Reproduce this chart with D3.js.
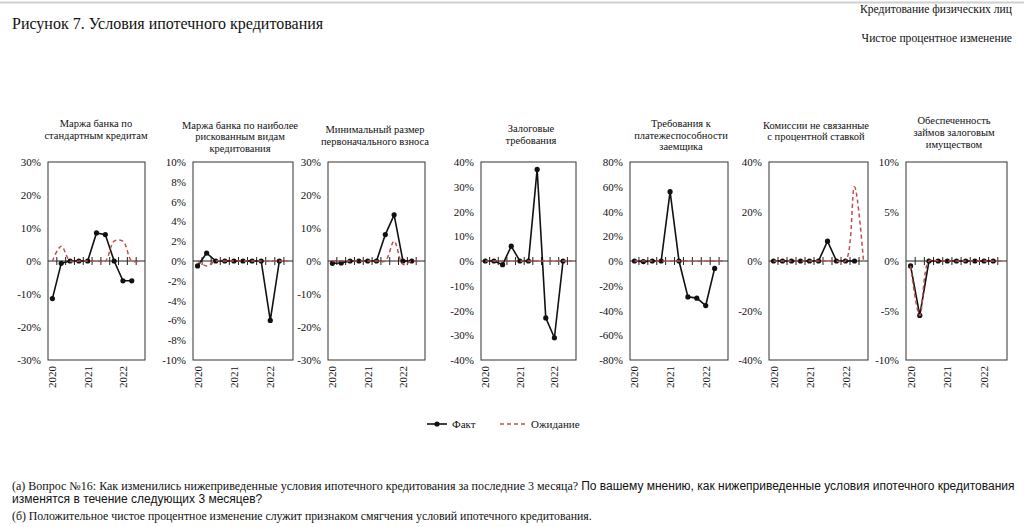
<!DOCTYPE html>
<html><head><meta charset="utf-8">
<script src="https://cdn.jsdelivr.net/npm/d3@7"></script>
<style>
html,body{margin:0;padding:0;background:#fff;}
svg{display:block;}
text{font-family:"Liberation Serif","Times New Roman",serif;fill:#111;}
.sans{font-family:"Liberation Sans",Arial,sans-serif;}
</style></head>
<body>
<svg id="chart" width="1024" height="527"></svg>
<script>
// ---- data ----
const categories = ["2020Q1","2020Q2","2020Q3","2020Q4","2021Q1","2021Q2","2021Q3","2021Q4","2022Q1","2022Q2","2022Q3"];
const yearCats = ["2020Q1","2021Q1","2022Q1"];
const yearLabels = ["2020","2021","2022"];
const titles = [
  ["Маржа банка по","стандартным кредитам"],
  ["Маржа банка по наиболее","рискованным видам","кредитования"],
  ["Минимальный размер","первоначального взноса"],
  ["Залоговые","требования"],
  ["Требования к","платежеспособности","заемщика"],
  ["Комиссии не связанные","с процентной ставкой"],
  ["Обеспеченность","займов залоговым","имуществом"]
];
const fact1 = [-11.4,-0.7,0,0,0,8.5,8,0,-6,-6,null];
const fact2 = [-0.5,0.8,0,0,0,0,0,0,-6,0,null];
const fact3 = [-0.7,-0.6,0,0,0,0,8,14,0,0,null];
const fact4 = [0,0,-1.5,6,0,0,37,-23,-31,0,null];
const fact5 = [0,-0.5,0,0,56,0,-29,-30,-36,-6,null];
const fact6 = [0,0,0,0,0,0,8,0,0,0,null];
const fact7 = [-0.5,-5.5,0,0,0,0,0,0,0,0,null];
const exp1 = [0,4.5,0,0,0,0,0,6,6,0,0];
const exp2 = [0,-0.5,0,0,0,0,0,0,0,0,0];
const exp3 = [0,0,0,0,0,0,0,6,-1,0,0];
const exp4 = [0,0,0,0,0,0,0,0,0,0,0];
const exp5 = [0,0,0,0,0,0,0,0,0,0,0];
const exp6 = [0,0,0,0,0,0,0,0,0,30,0];
const exp7 = [-0.5,-5.5,0,0,0,0,0,0,0,0,0];
const facts = [fact1,fact2,fact3,fact4,fact5,fact6,fact7];
const exps = [exp1,exp2,exp3,exp4,exp5,exp6,exp7];
const yMax = [30,10,30,40,80,40,10];
const yStep = [10,2,10,10,20,20,5];
const legendLabels = ["Факт","Ожидание"];

// ---- layout ----
const panelLeft = [48,193,328,481,630,769,906];
const panelRight = [145,293,425,576,728,868,1007];
const plotTop = 162, plotBottom = 360;
const titleCx = [96,240,375,531,681,816,954];
const titleCy = [123.5,125,129.3,128.3,123.3,125,120.5];
const RED = "#c0504d";

const svg = d3.select("#chart");

// header
svg.append("line").attr("x1",0).attr("x2",1024).attr("y1",2.5).attr("y2",2.5)
  .attr("stroke","#d0d0d0").attr("stroke-width",2);
svg.append("text").attr("x",12).attr("y",29).attr("font-size",16)
  .text("Рисунок 7. Условия ипотечного кредитования");
svg.append("text").attr("x",1012).attr("y",13).attr("font-size",11.6).attr("text-anchor","end")
  .text("Кредитование физических лиц");
svg.append("text").attr("x",1012).attr("y",42).attr("font-size",11.6).attr("text-anchor","end")
  .text("Чистое процентное изменение");

facts.forEach((fact, p) => {
  const g = svg.append("g");
  const x = d3.scaleBand().domain(categories).range([panelLeft[p], panelRight[p]]).padding(0);
  const bw = x.bandwidth();
  const cx = c => x(c) + bw/2;
  const y = d3.scaleLinear().domain([-yMax[p], yMax[p]]).range([plotBottom, plotTop]);

  // title
  const t = g.append("text").attr("text-anchor","middle").attr("font-size",10.5);
  titles[p].forEach((ln,i) => {
    t.append("tspan").attr("x", titleCx[p]).attr("y", titleCy[p] + 3.5 + i*11.8).text(ln);
  });

  // y axis labels
  const ticks = d3.range(-yMax[p], yMax[p] + yStep[p]/2, yStep[p]);
  const ya = g.append("g").attr("transform",`translate(${panelLeft[p]},0)`)
    .call(d3.axisLeft(y).tickValues(ticks).tickSize(0).tickPadding(7).tickFormat(d => d + "%"));
  ya.select(".domain").remove();
  ya.selectAll("text").attr("font-size",11).attr("font-family","Liberation Serif, Times New Roman, serif").attr("fill","#111");

  // box
  g.append("rect").attr("x",panelLeft[p]).attr("y",plotTop)
    .attr("width",panelRight[p]-panelLeft[p]).attr("height",plotBottom-plotTop)
    .attr("fill","none").attr("stroke","#333").attr("stroke-width",1);

  // zero axis with crossing ticks
  g.append("line").attr("x1",panelLeft[p]).attr("x2",panelRight[p])
    .attr("y1",y(0)).attr("y2",y(0)).attr("stroke","#222").attr("stroke-width",1);
  categories.slice(1).forEach(c => {
    g.append("line").attr("x1",x(c)).attr("x2",x(c)).attr("y1",y(0)-4).attr("y2",y(0)+4)
      .attr("stroke","#222").attr("stroke-width",1);
  });

  // year labels
  yearCats.forEach((c,i) => {
    g.append("text").attr("transform",`translate(${cx(c)+4},${plotBottom+6}) rotate(-90)`)
      .attr("text-anchor","end").attr("font-size",11).text(yearLabels[i]);
  });

  // fact line
  const pts = categories.map((c,i) => [c, fact[i]]).filter(d => d[1] !== null);
  const line = d3.line().x(d => cx(d[0])).y(d => y(d[1]));
  g.append("path").attr("d", line(pts)).attr("fill","none").attr("stroke","#111").attr("stroke-width",1.6);
  g.selectAll(null).data(pts).enter().append("circle")
    .attr("cx", d => cx(d[0])).attr("cy", d => y(d[1])).attr("r",2.6).attr("fill","#111");

  // expectation line
  const epts = categories.map((c,i) => [c, exps[p][i]]).filter(d => d[1] !== null);
  const eline = d3.line().x(d => cx(d[0])).y(d => y(d[1])).curve(d3.curveCatmullRom.alpha(0.5));
  g.append("path").attr("d", eline(epts)).attr("fill","none").attr("stroke",RED)
    .attr("stroke-width",1.5).attr("stroke-dasharray","4,3");
});

// legend
const lg = svg.append("g");
lg.append("line").attr("x1",427).attr("x2",447).attr("y1",424).attr("y2",424).attr("stroke","#111").attr("stroke-width",1.6);
lg.append("circle").attr("cx",437).attr("cy",424).attr("r",2.6).attr("fill","#111");
lg.append("text").attr("x",452).attr("y",427.5).attr("font-size",11).text(legendLabels[0]);
lg.append("line").attr("x1",500).attr("x2",526).attr("y1",424).attr("y2",424).attr("stroke",RED).attr("stroke-width",1.5).attr("stroke-dasharray","4,3");
lg.append("text").attr("x",531).attr("y",427.5).attr("font-size",11).text(legendLabels[1]);

// footnotes
const f1 = svg.append("text").attr("x",12).attr("y",490);
f1.append("tspan").attr("font-size",12).text("(а) Вопрос №16: Как изменились нижеприведенные условия ипотечного кредитования за последние 3 месяца? ");
f1.append("tspan").attr("class","sans").attr("font-size",12).text("По вашему мнению, как нижеприведенные условия ипотечного кредитования");
svg.append("text").attr("class","sans").attr("x",12).attr("y",503).attr("font-size",12)
  .text("изменятся в течение следующих 3 месяцев?");
svg.append("text").attr("x",12).attr("y",520).attr("font-size",11.8)
  .text("(б) Положительное чистое процентное изменение служит признаком смягчения условий ипотечного кредитования.");
</script>
</body></html>
